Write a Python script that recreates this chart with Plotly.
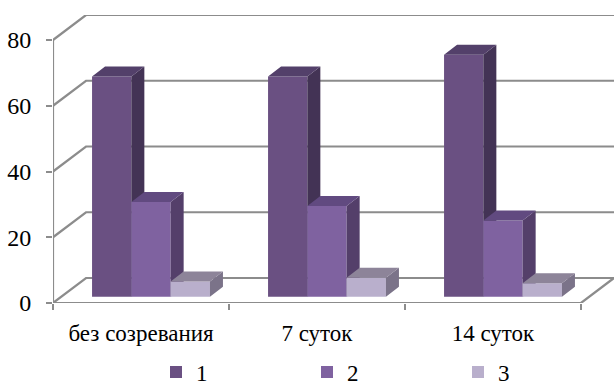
import plotly.graph_objects as go

# Chart data
categories = ["без созревания", "7 суток", "14 суток"]
series_names = ["1", "2", "3"]
series_1 = [67.0, 67.0, 73.6]
series_2 = [28.8, 27.6, 23.2]
series_3 = [4.6, 5.8, 4.1]
y_ticks = [0, 20, 40, 60, 80]

# Face colours per series: front, side, top
front_colors = ["#6A5082", "#7F62A0", "#B9AFCC"]
side_colors = ["#433355", "#543F6A", "#7B7389"]
top_colors = ["#53406A", "#614A80", "#8D8499"]
LINE = "#8C8C8C"
FONT = "Liberation Serif"

# Plot frame in pixels and the units of each axis
W, H = 614, 387
L, R, T, B = 53, 0, 15, 84
PX_X = 176.0                 # pixels per category
PX_Y = 3.2875                # pixels per value unit
X0, X1 = -0.5, -0.5 + (W - L - R) / PX_X
Y0, Y1 = 0, (H - T - B) / PX_Y

# Oblique projection of the depth axis, in axis units
WALL_DX, WALL_DY = 33 / PX_X, 25 / PX_Y
BAR_DX, BAR_DY = 13 / PX_X, 10 / PX_Y
FRONT_DX, FRONT_DY = 10 / PX_X, 6.3 / PX_Y
BAR_W = 39.3 / PX_X

fig = go.Figure()


def line_trace(xs, ys):
    fig.add_trace(go.Scatter(
        x=xs, y=ys, mode="lines", line=dict(color=LINE, width=2.2),
        cliponaxis=False, showlegend=False, hoverinfo="skip",
    ))


# Walls: oblique and back lines for each tick, then the two base edges
x_left, x_right = X0, X0 + len(categories)
for t in y_ticks:
    line_trace([x_left, x_left + WALL_DX, x_right + WALL_DX],
               [t, t + WALL_DY, t + WALL_DY])
line_trace([x_left, x_left], [y_ticks[0], y_ticks[-1]])
line_trace([x_left, x_right, x_right + WALL_DX], [0, 0, WALL_DY])

# One overlaid axis pair per series so nearer bars paint over farther faces
all_series = [series_1, series_2, series_3]
for s, values in enumerate(all_series):
    ax = s + 2
    xref, yref = f"x{ax}", f"y{ax}"
    lefts = [i + FRONT_DX + (s - 1.5) * BAR_W for i in range(len(categories))]
    fig.add_trace(go.Bar(
        x=[l + BAR_W / 2 for l in lefts], y=values, base=FRONT_DY, width=BAR_W,
        name=series_names[s], marker=dict(color=front_colors[s], line=dict(width=0)),
        xaxis=xref, yaxis=yref, cliponaxis=False,
    ))
    side_x, side_y, top_x, top_y = [], [], [], []
    for l, v in zip(lefts, values):
        r = l + BAR_W
        lo, hi = FRONT_DY, FRONT_DY + v
        side_x += [r, r + BAR_DX, r + BAR_DX, r, r, None]
        side_y += [lo, lo + BAR_DY, hi + BAR_DY, hi, lo, None]
        top_x += [l, r, r + BAR_DX, l + BAR_DX, l, None]
        top_y += [hi, hi, hi + BAR_DY, hi + BAR_DY, hi, None]
    for xs, ys, col in ((side_x, side_y, side_colors[s]), (top_x, top_y, top_colors[s])):
        fig.add_trace(go.Scatter(
            x=xs, y=ys, mode="lines", fill="toself", fillcolor=col,
            line=dict(width=0), xaxis=xref, yaxis=yref,
            cliponaxis=False, showlegend=False, hoverinfo="skip",
        ))

overlay_x = dict(range=[X0, X1], overlaying="x", visible=False, fixedrange=True)
overlay_y = dict(range=[Y0, Y1], overlaying="y", visible=False, fixedrange=True)

fig.update_layout(
    width=W, height=H,
    margin=dict(l=L, r=R, t=T, b=B, autoexpand=False),
    paper_bgcolor="white", plot_bgcolor="white",
    showlegend=True,
    font=dict(family=FONT, size=23, color="#000000"),
    xaxis=dict(
        range=[X0, X1], tickmode="array",
        tickvals=list(range(len(categories))), ticktext=categories,
        ticks="", showgrid=False, showline=False, zeroline=False,
        ticklabelstandoff=14, tickfont=dict(size=23),
        minor=dict(
            tickmode="array",
            tickvals=[X0 + i for i in range(len(categories) + 1)],
            ticks="outside", ticklen=6, tickwidth=2, tickcolor=LINE, showgrid=False,
        ),
    ),
    yaxis=dict(
        range=[Y0, Y1], tickmode="array", tickvals=y_ticks,
        ticks="outside", ticklen=6, tickwidth=2, tickcolor=LINE,
        showgrid=False, showline=False, zeroline=False,
        ticklabelstandoff=10, tickfont=dict(size=24),
    ),
    xaxis2=overlay_x, xaxis3=overlay_x, xaxis4=overlay_x,
    yaxis2=overlay_y, yaxis3=overlay_y, yaxis4=overlay_y,
    legend=dict(
        orientation="h", x=(170 - 5 - 9 - L) / (W - L), xanchor="left",
        y=(H - B - 372) / (H - T - B), yanchor="middle",
        entrywidth=106, entrywidthmode="pixels",
        font=dict(size=23), bgcolor="rgba(0,0,0,0)",
    ),
)

fig.write_html("out.html", config={"displayModeBar": False})
